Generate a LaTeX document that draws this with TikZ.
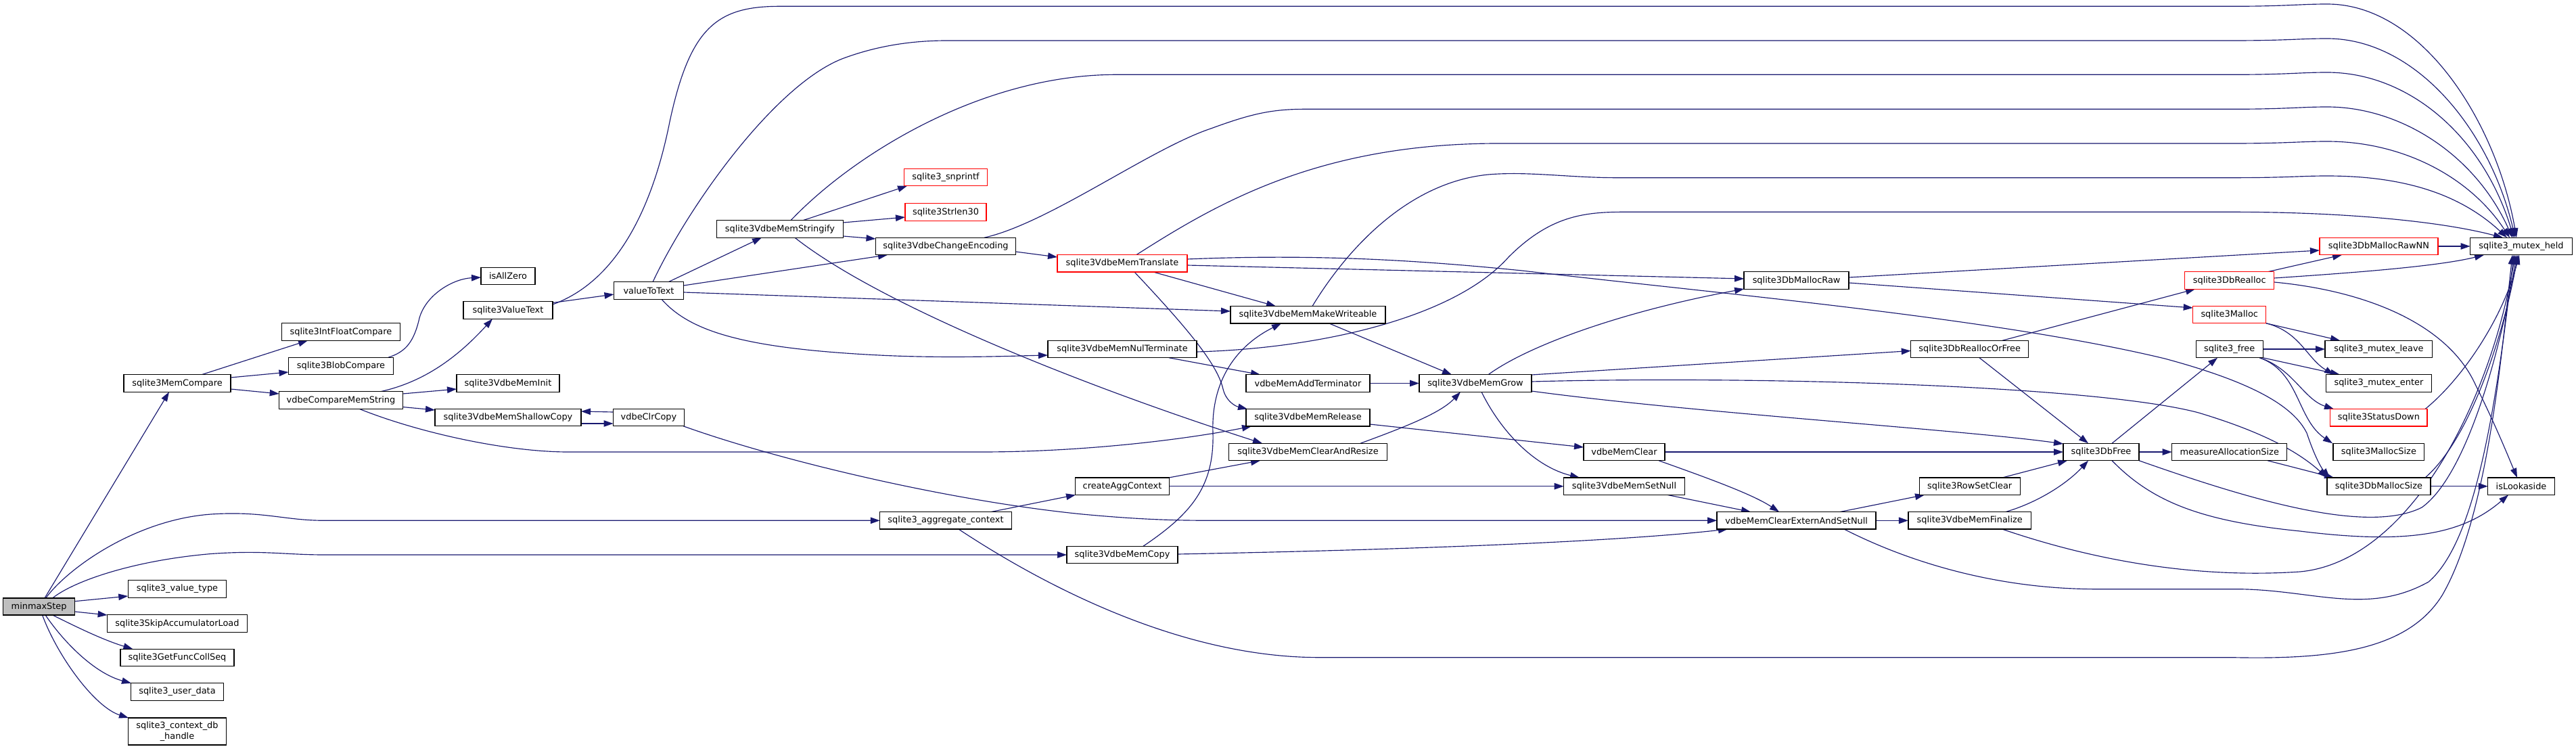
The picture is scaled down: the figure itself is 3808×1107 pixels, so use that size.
\documentclass[tikz,border=0pt]{standalone}
\usepackage{fontspec}
\setmainfont{DejaVu Sans}
\usetikzlibrary{arrows.meta,calc}
\pgfdeclarelayer{bg}
\pgfsetlayers{bg,main}
\definecolor{edgec}{HTML}{191970}
\definecolor{nodeg}{HTML}{BFBFBF}
\tikzset{
  fn/.style={draw=black, fill=white, line width=1.35pt, inner sep=0pt, outer sep=0pt,
    minimum height=25.5pt, align=center, font=\fontsize{12.9}{15.3}\selectfont, text=black},
  rfn/.style={fn, draw=red},
  ed/.style={draw=edgec, line width=1.15pt, -{Triangle[length=14pt,width=9.5pt]}},
}
\begin{document}
\begin{tikzpicture}[x=1pt,y=-1pt]
\useasboundingbox (0,0) rectangle (3808,1107);
% rank 0
\node[fn, fill=nodeg, minimum width=106pt, minimum height=25pt] (ms) at (57.6,896.5) {minmaxStep};
% rank 1
\node[fn, minimum width=158pt] (mc) at (262,566.5) {sqlite3MemCompare};
\node[fn, minimum width=145.5pt] (vt) at (262,870.5) {sqlite3\_value\_type};
\node[fn, minimum width=206.7pt] (sal) at (262,921.5) {sqlite3SkipAccumulatorLoad};
\node[fn, minimum width=168pt] (gfc) at (262,972) {sqlite3GetFuncCollSeq};
\node[fn, minimum width=137.5pt] (ud) at (262,1022.5) {sqlite3\_user\_data};
\node[fn, minimum width=145.5pt, minimum height=40pt] (cdh) at (262,1081) {sqlite3\_context\_db\\\_handle};
% rank 2
\node[fn, minimum width=175.5pt] (ifc) at (504,490.5) {sqlite3IntFloatCompare};
\node[fn, minimum width=155pt] (bc) at (504,541) {sqlite3BlobCompare};
\node[fn, minimum width=182.6pt] (cms) at (504,591.5) {vdbeCompareMemString};
% rank 3
\node[fn, minimum width=80pt] (iaz) at (751,408) {isAllZero};
\node[fn, minimum width=132pt] (svt) at (751,458.5) {sqlite3ValueText};
\node[fn, minimum width=152pt] (vmi) at (751,566.5) {sqlite3VdbeMemInit};
\node[fn, minimum width=216pt] (msc) at (751,617) {sqlite3VdbeMemShallowCopy};
% rank 4
\node[fn, minimum width=103pt] (vtt) at (959,429.5) {valueToText};
\node[fn, minimum width=105pt] (vcc) at (959,617) {vdbeClrCopy};
% rank 5
\node[fn, minimum width=187pt] (mstr) at (1153,338.5) {sqlite3VdbeMemStringify};
% rank 6
\node[rfn, minimum width=123pt] (snp) at (1398,262) {sqlite3\_snprintf};
\node[rfn, minimum width=120pt] (sl30) at (1398,313.5) {sqlite3Strlen30};
\node[fn, minimum width=207pt] (ce) at (1398,364) {sqlite3VdbeChangeEncoding};
\node[fn, minimum width=194.5pt] (agg) at (1398,769.3) {sqlite3\_aggregate\_context};
% rank 7
\node[rfn, minimum width=192pt] (tr) at (1659,389.3) {sqlite3VdbeMemTranslate};
\node[fn, minimum width=220pt] (nul) at (1659,516) {sqlite3VdbeMemNulTerminate};
\node[fn, minimum width=139pt] (cac) at (1659,718.7) {createAggContext};
\node[fn, minimum width=164pt] (mcp) at (1659,820) {sqlite3VdbeMemCopy};
% rank 8
\node[fn, minimum width=229pt] (mw) at (1933.5,465.3) {sqlite3VdbeMemMakeWriteable};
\node[fn, minimum width=183pt] (addt) at (1933.5,566.5) {vdbeMemAddTerminator};
\node[fn, minimum width=183pt] (rel) at (1933.5,617.3) {sqlite3VdbeMemRelease};
\node[fn, minimum width=234pt] (car) at (1933.5,668) {sqlite3VdbeMemClearAndResize};
% rank 9
\node[fn, minimum width=166pt] (grow) at (2181,566.5) {sqlite3VdbeMemGrow};
% rank 10
\node[fn, minimum width=120pt] (mclr) at (2401,668) {vdbeMemClear};
\node[fn, minimum width=178.6pt] (snull) at (2401,718.7) {sqlite3VdbeMemSetNull};
% rank 11
\node[fn, minimum width=155pt] (raw) at (2655.6,414.5) {sqlite3DbMallocRaw};
\node[fn, minimum width=235pt] (ces) at (2655.6,769.3) {vdbeMemClearExternAndSetNull};
% rank 12
\node[fn, minimum width=174pt] (rof) at (2911.7,516) {sqlite3DbReallocOrFree};
\node[fn, minimum width=149pt] (rsc) at (2911.7,718.7) {sqlite3RowSetClear};
\node[fn, minimum width=181.5pt] (fin) at (2911.7,769.3) {sqlite3VdbeMemFinalize};
% rank 13
\node[fn, minimum width=112pt] (dbf) at (3106,668) {sqlite3DbFree};
% rank 14
\node[rfn, minimum width=132pt] (drl) at (3295.7,414.5) {sqlite3DbRealloc};
\node[rfn, minimum width=108pt] (mal) at (3295.7,465) {sqlite3Malloc};
\node[fn, minimum width=99pt] (free) at (3295.7,516) {sqlite3\_free};
\node[fn, minimum width=170pt] (mas) at (3295.7,668) {measureAllocationSize};
% rank 15
\node[rfn, minimum width=175pt] (rnn) at (3516.4,364) {sqlite3DbMallocRawNN};
\node[fn, minimum width=158.7pt] (mlv) at (3516.4,516) {sqlite3\_mutex\_leave};
\node[fn, minimum width=156pt] (men) at (3516.4,566.5) {sqlite3\_mutex\_enter};
\node[rfn, minimum width=143.4pt] (sd) at (3516.4,617.3) {sqlite3StatusDown};
\node[fn, minimum width=134.6pt] (msz) at (3516.4,668) {sqlite3MallocSize};
\node[fn, minimum width=153pt] (dms) at (3516.4,718.7) {sqlite3DbMallocSize};
% rank 16
\node[fn, minimum width=151pt] (mh) at (3727,364) {sqlite3\_mutex\_held};
\node[fn, minimum width=98.5pt] (isl) at (3727,718.7) {isLookaside};

\begin{pgfonlayer}{bg}
% minmaxStep
\draw[ed] ($(ms)+(8.4,-12.5)$) -- ($(mc)+(-12,12.75)$);
\draw[ed] ($(ms)+(10,-12.5)$) .. controls (100,840) and (200,768) .. (312,760) .. controls (390,755) and (420,769.3) .. (480,769.3) -- (agg.west);
\draw[ed] ($(ms)+(20,-12.5)$) .. controls (110,858) and (200,828) .. (312,818.5) .. controls (390,813) and (420,820) .. (480,820) -- (mcp.west);
\draw[ed] ($(ms)+(53,-7.8)$) -- ($(vt)+(-72.75,10.5)$);
\draw[ed] ($(ms)+(53,7.5)$) -- ($(sal)+(-103.35,-12.5)$);
\draw[ed] ($(ms)+(20,12.5)$) .. controls (110,925) and (150,945) .. ($(gfc)+(-65.6,-12.75)$);
\draw[ed] ($(ms)+(9.5,12.5)$) .. controls (95,950) and (140,995) .. ($(ud)+(-68,-12.75)$);
\draw[ed] ($(ms)+(5,12.5)$) .. controls (85,970) and (140,1045) .. ($(cdh)+(-72,-20)$);
% sqlite3MemCompare
\draw[ed] ($(mc)+(36,-12.75)$) -- ($(ifc)+(-49,12.75)$);
\draw[ed] ($(mc)+(79,-8.5)$) -- ($(bc)+(-77.5,9)$);
\draw[ed] ($(mc)+(79,8.5)$) -- ($(cms)+(-91.3,-9.5)$);
\draw[ed] ($(bc)+(70,-12.75)$) .. controls (600,520) and (612,505) .. (620,470) .. controls (630,435) and (670,412) .. ($(iaz)+(-40,2)$);
% vdbeCompareMemString
\draw[ed] ($(cms)+(58.5,-12.75)$) .. controls (620,566) and (670,535) .. ($(svt)+(-23,12.75)$);
\draw[ed] ($(cms)+(91.3,-9.5)$) -- ($(vmi)+(-76,8.5)$);
\draw[ed] ($(cms)+(91.3,10)$) -- ($(msc)+(-108,-11)$);
\draw[ed] ($(cms)+(27,12.75)$) .. controls (620,640) and (750,668) .. (840,668) -- (1450,668) .. controls (1600,668) and (1750,650) .. ($(rel)+(-83.5,12.75)$);
% sqlite3ValueText
\draw[ed] ($(svt)+(66,-11)$) -- ($(vtt)+(-51.5,5.5)$);
\draw[ed] ($(svt)+(66,-8.5)$) .. controls (900,420) and (960,330) .. (990,180) .. controls (1020,40) and (1060,9.3) .. (1153,9.3) -- (3300,9.3) .. controls (3380,9.3) and (3400,6) .. (3440,6) .. controls (3580,6) and (3690,180) .. ($(mh)+(-7,-12.75)$);
% valueToText
\draw[ed] ($(vtt)+(6,-12.75)$) .. controls (1020,300) and (1150,120) .. (1250,85) .. controls (1300,67) and (1350,60) .. (1400,60) -- (3300,60) .. controls (3380,60) and (3400,57) .. (3440,57) .. controls (3570,57) and (3680,190) .. ($(mh)+(-9,-12.75)$);
\draw[ed] ($(vtt)+(29,-12.75)$) -- ($(mstr)+(-27,12.75)$);
\draw[ed] ($(vtt)+(51.5,-7.5)$) -- ($(ce)+(-86,12.75)$);
\draw[ed] ($(vtt)+(51.5,2.5)$) -- ($(mw)+(-114.5,-5.3)$);
\draw[ed] ($(vtt)+(19,12.75)$) .. controls (1020,490) and (1100,515) .. (1300,525) .. controls (1400,530) and (1500,526) .. ($(nul)+(-110,9)$);
% sqlite3VdbeMemStringify
\draw[ed] ($(mstr)+(16,-12.75)$) .. controls (1260,230) and (1450,110.3) .. (1650,110.3) -- (3300,110.3) .. controls (3380,110.3) and (3400,107) .. (3440,107) .. controls (3560,107) and (3670,200) .. ($(mh)+(-11,-12.75)$);
\draw[ed] ($(mstr)+(34,-12.75)$) -- ($(snp)+(-57,12.75)$);
\draw[ed] ($(mstr)+(93.5,-9.5)$) -- ($(sl30)+(-60,7.5)$);
\draw[ed] ($(mstr)+(93.5,10.5)$) -- ($(ce)+(-103.5,-11)$);
\draw[ed] ($(mstr)+(22,12.75)$) .. controls (1300,450) and (1600,570) .. ($(car)+(-67.5,-12.75)$);
% sqlite3VdbeChangeEncoding
\draw[ed] ($(ce)+(57,-12.75)$) .. controls (1550,330) and (1700,220) .. (1790,190) .. controls (1850,168) and (1880,161.3) .. (1930,161.3) -- (3300,161.3) .. controls (3380,161.3) and (3400,158) .. (3440,158) .. controls (3550,158) and (3660,230) .. ($(mh)+(-13,-12.75)$);
\draw[ed] ($(ce)+(103.5,8)$) -- ($(tr)+(-96,-9.3)$);
% sqlite3VdbeMemTranslate
\draw[ed] ($(tr)+(21,-12.75)$) .. controls (1800,300) and (1950,212) .. (2215,212) -- (3300,212) .. controls (3380,212) and (3400,209) .. (3440,209) .. controls (3550,209) and (3650,260) .. ($(mh)+(-17,-12.75)$);
\draw[ed] ($(tr)+(46,12.75)$) -- ($(mw)+(-47.5,-12.75)$);
\draw[ed] ($(tr)+(18,12.75)$) .. controls (1760,490) and (1800,540) .. (1808,575) .. controls (1812,592) and (1825,600) .. ($(rel)+(-89.5,-12.75)$);
\draw[ed] ($(tr)+(96,2.7)$) -- ($(raw)+(-77.5,-2.5)$);
\draw[ed] ($(tr)+(96,-6.3)$) .. controls (1950,375) and (2100,385) .. (2250,400) .. controls (2550,435) and (2950,470) .. (3200,530) .. controls (3330,565) and (3390,600) .. (3410,640) .. controls (3420,670) and (3430,690) .. ($(dms)+(-72.4,-12.75)$);
% sqlite3VdbeMemMakeWriteable
\draw[ed] ($(mw)+(6.5,-12.75)$) .. controls (1990,370) and (2080,270) .. (2200,258) .. controls (2260,253) and (2320,262.7) .. (2390,262.7) -- (3300,262.7) .. controls (3380,262.7) and (3400,260) .. (3440,260) .. controls (3560,260) and (3640,290) .. ($(mh)+(-21,-12.75)$);
\draw[ed] ($(mw)+(31.5,12.75)$) -- ($(grow)+(-35,-12.75)$);
% sqlite3VdbeMemNulTerminate
\draw[ed] ($(nul)+(110,4)$) .. controls (1950,515) and (2150,470) .. (2230,380) .. controls (2290,320) and (2340,313.3) .. (2400,313.3) -- (3300,313.3) .. controls (3450,313.3) and (3600,325) .. ($(mh)+(-27,-12.75)$);
\draw[ed] ($(nul)+(69,12.75)$) -- ($(addt)+(-70.5,-12.75)$);
\draw[ed] (addt.east) -- (grow.west);
\draw[ed] ($(rel)+(91.5,9.7)$) -- ($(mclr)+(-60,-7)$);
\draw[ed] ($(car)+(77.5,-12.75)$) .. controls (2080,630) and (2130,610) .. ($(grow)+(-22,12.75)$);
% createAggContext, aggregate context, MemCopy
\draw[ed] ($(cac)+(69,-12.75)$) -- ($(car)+(-70.5,12.75)$);
\draw[ed] (cac.east) -- (snull.west);
\draw[ed] ($(agg)+(67,-12.75)$) -- ($(cac)+(-69,12.75)$);
\draw[ed] ($(agg)+(19,12.75)$) .. controls (1550,870) and (1750,971.7) .. (1950,971.7) -- (3300,971.7) .. controls (3450,975) and (3560,960) .. (3610,880) .. controls (3680,760) and (3700,500) .. ($(mh)+(-13,12.75)$);
\draw[ed] ($(mcp)+(31,-12.75)$) .. controls (1760,760) and (1795,720) .. (1793,640) .. controls (1790,560) and (1830,510) .. ($(mw)+(-39.5,12.75)$);
\draw[ed] ($(mcp)+(82,-1)$) .. controls (1950,815) and (2350,805) .. ($(ces)+(-101.6,12.75)$);
% ShallowCopy / ClrCopy
\draw[ed] ($(msc)+(108,9)$) -- ($(vcc)+(-52.5,9)$);
\draw[ed] ($(vcc)+(-52.5,-8)$) -- ($(msc)+(108,-9)$);
\draw[ed] ($(vcc)+(51,12.75)$) .. controls (1150,680) and (1400,740) .. (1600,760) .. controls (1700,769.3) and (1750,769.3) .. (1810,769.3) -- (ces.west);
% sqlite3VdbeMemGrow
\draw[ed] ($(grow)+(19,-12.75)$) .. controls (2260,510) and (2400,460) .. ($(raw)+(-77.5,12.5)$);
\draw[ed] ($(grow)+(83,-12.5)$) -- ($(rof)+(-87,2.5)$);
\draw[ed] ($(grow)+(83,-2.5)$) .. controls (2600,555) and (3100,570) .. (3250,610) .. controls (3350,640) and (3400,670) .. ($(dms)+(-76.4,-12.75)$);
\draw[ed] ($(grow)+(83,11.5)$) .. controls (2500,610) and (2900,635) .. ($(dbf)+(-56,-12)$);
\draw[ed] ($(grow)+(9,12.75)$) .. controls (2220,640) and (2270,690) .. ($(snull)+(-66,-12.75)$);
% vdbeMemClear, SetNull
\draw[ed] (mclr.east) -- (dbf.west);
\draw[ed] ($(mclr)+(51,12.75)$) .. controls (2520,705) and (2590,730) .. ($(ces)+(-25.6,-12.75)$);
\draw[ed] ($(snull)+(64,12.75)$) -- ($(ces)+(-67.6,-12.75)$);
% vdbeMemClearExternAndSetNull
\draw[ed] ($(ces)+(64.4,-12.75)$) -- ($(rsc)+(-66.7,12.75)$);
\draw[ed] (ces.east) -- (fin.west);
\draw[ed] ($(ces)+(70.4,12.75)$) .. controls (2820,830) and (2950,870.7) .. (3100,870.7) -- (3310,870.7) .. controls (3420,872) and (3500,910) .. (3590,860) .. controls (3660,800) and (3690,600) .. ($(mh)+(-11,12.75)$);
% RowSetClear, Finalize
\draw[ed] ($(rsc)+(48.3,-12.75)$) -- ($(dbf)+(-50,12.75)$);
\draw[ed] ($(fin)+(53.3,-12.75)$) .. controls (3020,740) and (3060,710) .. ($(dbf)+(-19,12.75)$);
\draw[ed] ($(fin)+(48,12.75)$) .. controls (3100,830) and (3250,855) .. (3400,845) .. controls (3560,830) and (3680,600) .. ($(mh)+(-9,12.75)$);
% DbReallocOrFree, DbMallocRaw
\draw[ed] ($(rof)+(48.3,-12.75)$) -- ($(drl)+(-50.7,12.75)$);
\draw[ed] ($(rof)+(14.3,12.75)$) -- ($(dbf)+(-19,-12.75)$);
\draw[ed] ($(raw)+(77.5,-4.5)$) -- ($(rnn)+(-87.5,6)$);
\draw[ed] ($(raw)+(77.5,3.5)$) -- ($(mal)+(-54,-10)$);
% DbRealloc
\draw[ed] ($(drl)+(56.3,-12.75)$) -- ($(rnn)+(-54.4,12.75)$);
\draw[ed] ($(drl)+(66,-3.5)$) .. controls (3450,405) and (3600,395) .. ($(mh)+(-55,12.75)$);
\draw[ed] ($(drl)+(66,2.5)$) .. controls (3500,430) and (3620,480) .. (3660,570) .. controls (3690,630) and (3710,680) .. ($(isl)+(-6,-12.75)$);
% Malloc, free
\draw[ed] ($(mal)+(54,12.75)$) -- ($(mlv)+(-57.4,-12.75)$);
\draw[ed] ($(mal)+(54,12.75)$) .. controls (3400,490) and (3410,530) .. ($(men)+(-66.4,-12.75)$);
\draw[ed] (free.east) -- (mlv.west);
\draw[ed] ($(free)+(49.5,12.75)$) -- ($(men)+(-57.4,-12.75)$);
\draw[ed] ($(free)+(44.5,12.75)$) .. controls (3390,545) and (3405,590) .. ($(sd)+(-66.4,-12.75)$);
\draw[ed] ($(free)+(44.5,12.75)$) .. controls (3400,550) and (3395,620) .. ($(msz)+(-68.4,-12.75)$);
% DbFree
\draw[ed] ($(dbf)+(16,-12.75)$) -- ($(free)+(-17.7,12.75)$);
\draw[ed] (dbf.east) -- (mas.west);
\draw[ed] ($(dbf)+(16,12.75)$) .. controls (3180,740) and (3250,770) .. (3400,785) .. controls (3560,805) and (3640,790) .. ($(isl)+(-19,12.75)$);
\draw[ed] ($(dbf)+(56,12.75)$) .. controls (3330,740) and (3500,790) .. (3580,750) .. controls (3650,700) and (3700,500) .. ($(mh)+(-7,12.75)$);
% measureAllocationSize, DbMallocSize, StatusDown, RawNN
\draw[ed] ($(mas)+(56.3,12.75)$) -- ($(dms)+(-66.4,-12.75)$);
\draw[ed] (dms.east) -- (isl.west);
\draw[ed] ($(dms)+(68.6,-12.75)$) .. controls (3650,650) and (3700,500) .. ($(mh)+(-5,12.75)$);
\draw[ed] ($(sd)+(68.6,-12.75)$) .. controls (3640,560) and (3700,470) .. ($(mh)+(-3,12.75)$);
\draw[ed] (rnn.east) -- (mh.west);
\end{pgfonlayer}
\end{tikzpicture}
\end{document}
